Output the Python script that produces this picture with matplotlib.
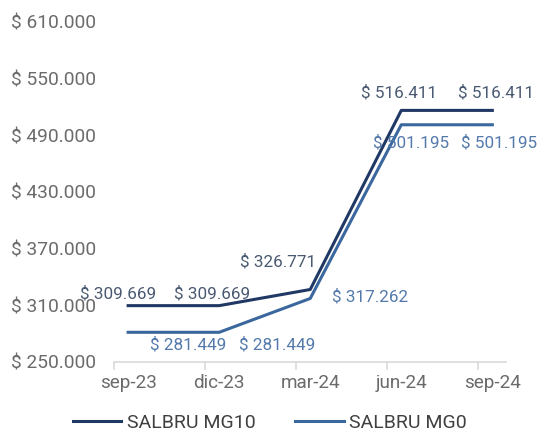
import matplotlib
matplotlib.use("Agg")
import matplotlib.pyplot as plt
from matplotlib.ticker import FuncFormatter

plt.rcParams['font.family'] = ['Roboto', 'DejaVu Sans']

# datos
fechas = ['sep-23', 'dic-23', 'mar-24', 'jun-24', 'sep-24']
mg10 = [309669, 309669, 326771, 516411, 516411]
mg0 = [281449, 281449, 317262, 501195, 501195]

c_mg10 = '#203864'
c_mg0 = '#3A679E'
c_lab10 = '#4A5A72'
c_lab0 = '#5479AB'
gris = '#6B6B6B'


def pesos(v, pos=None):
    return '$ ' + f'{v:,.0f}'.replace(',', '.')


fig = plt.figure(figsize=(5.4, 4.32), dpi=100)
ax = fig.add_axes([114 / 540, 1 - 362 / 432, (506 - 114) / 540, (362 - 22) / 432])

x = list(range(len(fechas)))
ax.plot(x, mg10, color=c_mg10, lw=2.2, label='SALBRU MG10')
ax.plot(x, mg0, color=c_mg0, lw=2.2, label='SALBRU MG0')

# etiquetas de datos (desplazamiento en pixeles)
off10 = [(-10, 12), (-7, 12), (-32, 28), (-2, 18), (4, 18)]
off0 = [(60, -12), (58, -12), (60, 2), (10, -18), (7, -18)]
for i in x:
    ax.annotate(pesos(mg10[i]), (i, mg10[i]), xytext=off10[i], textcoords='offset pixels',
                ha='center', va='center', fontsize=12.3, color=c_lab10)
    ax.annotate(pesos(mg0[i]), (i, mg0[i]), xytext=off0[i], textcoords='offset pixels',
                ha='center', va='center', fontsize=12.3, color=c_lab0)

ax.set_ylim(250000, 610000)
ax.set_yticks(range(250000, 610001, 60000))
ax.yaxis.set_major_formatter(FuncFormatter(pesos))
ax.set_xlim(-0.155, 4.15)
ax.set_xticks(x)
ax.set_xticklabels(fechas)
ax.set_xticks([i - 0.155 for i in x], minor=True)
ax.tick_params(axis='x', which='major', length=0, pad=9, labelsize=13.6, labelcolor=gris)
ax.tick_params(axis='x', which='minor', length=6, color='#D9D9D9', width=1.2)
ax.tick_params(axis='y', length=0, pad=13, labelsize=13.8, labelcolor=gris)

for s in ['top', 'right', 'left']:
    ax.spines[s].set_visible(False)
ax.spines['bottom'].set_color('#D9D9D9')
ax.spines['bottom'].set_linewidth(1.2)

fig.legend(loc='lower center', bbox_to_anchor=(0.5, -0.04), ncol=2, frameon=False,
           fontsize=14, labelcolor='#404040', handlelength=2.5, handletextpad=0.3,
           columnspacing=2.0)

fig.savefig('out.png', dpi=100)
